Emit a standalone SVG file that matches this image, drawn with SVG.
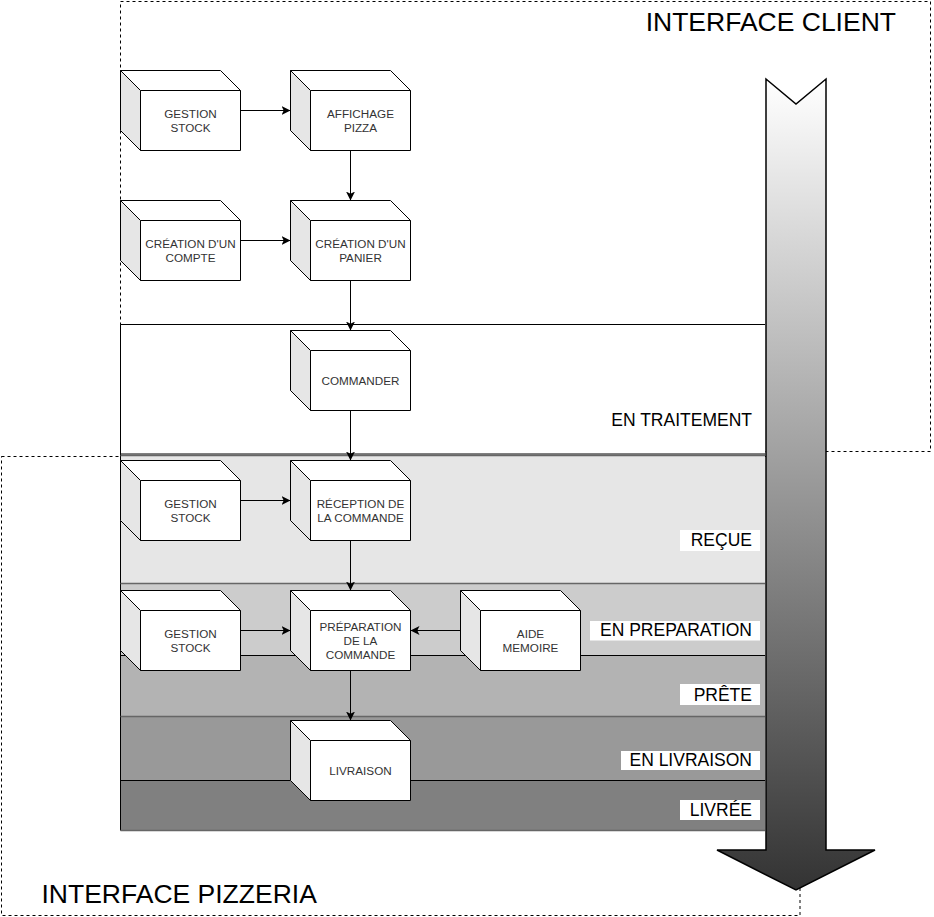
<svg xmlns="http://www.w3.org/2000/svg" width="934" height="917" viewBox="0 0 934 917">
<defs>
<style>
.cube-body{fill:#fff;stroke:#000;stroke-width:1}
.cube-side{fill:#e6e6e6;stroke:#000;stroke-width:1}
.cube-line{fill:none;stroke:#000;stroke-width:1}
.nt{font-family:"Liberation Sans",Arial,sans-serif;font-size:11.7px;fill:#333;text-anchor:middle}
.lbl{font-family:"Liberation Sans",Arial,sans-serif;font-size:17.5px;fill:#000;text-anchor:end}
.lblbg{fill:#fff}
.title{font-family:"Liberation Sans",Arial,sans-serif;font-size:26.5px;fill:#000}
.dash{fill:none;stroke:#000;stroke-width:1;stroke-dasharray:3 3}
.edge{fill:none;stroke:#000;stroke-width:1;marker-end:url(#arr)}
</style>
<marker id="arr" markerUnits="userSpaceOnUse" markerWidth="10" markerHeight="10" refX="9" refY="4.5" orient="auto">
<path d="M0,0 L9,4.5 L0,9 L2.2,4.5 Z" fill="#000"/>
</marker>
<linearGradient id="grad" x1="0" y1="79" x2="0" y2="890" gradientUnits="userSpaceOnUse">
<stop offset="0" stop-color="#ffffff"/>
<stop offset="1" stop-color="#333333"/>
</linearGradient>
</defs>

<g id="interface-client">
<rect class="dash" x="120.5" y="1.5" width="810" height="450"/>
<text class="title" x="896" y="30.5" text-anchor="end">INTERFACE CLIENT</text>
</g>
<g id="interface-pizzeria">
<rect class="dash" x="1.5" y="456.5" width="798.5" height="459"/>
<text class="title" x="41.5" y="903">INTERFACE PIZZERIA</text>
</g>

<g id="bands">
<rect x="120.5" y="324.5" width="644.5" height="130" fill="#ffffff"/>
<rect x="120.5" y="454.5" width="644.5" height="129" fill="#e6e6e6"/>
<rect x="120.5" y="583.5" width="644.5" height="72" fill="#cccccc"/>
<rect x="120.5" y="655.5" width="644.5" height="61" fill="#b3b3b3"/>
<rect x="120.5" y="716.5" width="644.5" height="64" fill="#999999"/>
<rect x="120.5" y="780.5" width="644.5" height="50" fill="#808080"/>
<path d="M120.5,324.5 H765 M120.5,454 H765 M120.5,655.5 H765 M120.5,780.5 H765 M120.5,324.5 V830.5" stroke="#000" stroke-width="1" fill="none"/>
<path d="M120.5,455.5 H765 M120.5,583.5 H765 M120.5,716.5 H765 M120.5,830.5 H765" stroke="#666" stroke-width="1.6" fill="none"/>
</g>

<g id="labels">
<text class="lbl" x="752" y="426">EN TRAITEMENT</text>
<rect class="lblbg" x="680" y="530" width="80" height="21"/>
<text class="lbl" x="752" y="546">REÇUE</text>
<rect class="lblbg" x="590" y="621" width="170" height="19.5"/>
<text class="lbl" x="752" y="636">EN PREPARATION</text>
<rect class="lblbg" x="680" y="684" width="80" height="21"/>
<text class="lbl" x="752" y="700.5">PRÊTE</text>
<rect class="lblbg" x="621" y="751" width="139" height="19"/>
<text class="lbl" x="752" y="766">EN LIVRAISON</text>
<rect class="lblbg" x="680" y="800" width="80" height="20"/>
<text class="lbl" x="752" y="816">LIVRÉE</text>
</g>

<g id="timeline-arrow">
<path d="M766,79 L796,104 L826,79 L826,850 L875,850 L796,890 L717,850 L766,850 Z" fill="url(#grad)" stroke="#000" stroke-width="1.5" stroke-linejoin="miter"/>
</g>

<g id="connectors">
<path class="edge" d="M240.5,110.5 H290.5"/>
<path class="edge" d="M350.5,150.5 V200.5"/>
<path class="edge" d="M240.5,240.5 H290.5"/>
<path class="edge" d="M350.5,280.5 V330.5"/>
<path class="edge" d="M350.5,410.5 V460.5"/>
<path class="edge" d="M240.5,500.5 H290.5"/>
<path class="edge" d="M350.5,540.5 V590.5"/>
<path class="edge" d="M240.5,630.5 H290.5"/>
<path class="edge" d="M460.5,630.5 H410.5"/>
<path class="edge" d="M350.5,670.5 V720.5"/>
</g>

<g id="gestion-stock-1">
<path class="cube-body" d="M120.5,70.5 H220.5 L240.5,90.5 V150.5 H140.5 L120.5,130.5 Z"/>
<path class="cube-side" d="M120.5,70.5 L140.5,90.5 V150.5 L120.5,130.5 Z"/>
<path class="cube-line" d="M140.5,90.5 H240.5"/>
<text class="nt" x="190.5" y="118">GESTION</text><text class="nt" x="190.5" y="132">STOCK</text>
</g>
<g id="affichage-pizza">
<path class="cube-body" d="M290.5,70.5 H390.5 L410.5,90.5 V150.5 H310.5 L290.5,130.5 Z"/>
<path class="cube-side" d="M290.5,70.5 L310.5,90.5 V150.5 L290.5,130.5 Z"/>
<path class="cube-line" d="M310.5,90.5 H410.5"/>
<text class="nt" x="360.5" y="118">AFFICHAGE</text><text class="nt" x="360.5" y="132">PIZZA</text>
</g>
<g id="creation-compte">
<path class="cube-body" d="M120.5,200.5 H220.5 L240.5,220.5 V280.5 H140.5 L120.5,260.5 Z"/>
<path class="cube-side" d="M120.5,200.5 L140.5,220.5 V280.5 L120.5,260.5 Z"/>
<path class="cube-line" d="M140.5,220.5 H240.5"/>
<text class="nt" x="190.5" y="248">CRÉATION D'UN</text><text class="nt" x="190.5" y="262">COMPTE</text>
</g>
<g id="creation-panier">
<path class="cube-body" d="M290.5,200.5 H390.5 L410.5,220.5 V280.5 H310.5 L290.5,260.5 Z"/>
<path class="cube-side" d="M290.5,200.5 L310.5,220.5 V280.5 L290.5,260.5 Z"/>
<path class="cube-line" d="M310.5,220.5 H410.5"/>
<text class="nt" x="360.5" y="248">CRÉATION D'UN</text><text class="nt" x="360.5" y="262">PANIER</text>
</g>
<g id="commander">
<path class="cube-body" d="M290.5,330.5 H390.5 L410.5,350.5 V410.5 H310.5 L290.5,390.5 Z"/>
<path class="cube-side" d="M290.5,330.5 L310.5,350.5 V410.5 L290.5,390.5 Z"/>
<path class="cube-line" d="M310.5,350.5 H410.5"/>
<text class="nt" x="360.5" y="385">COMMANDER</text>
</g>
<g id="gestion-stock-2">
<path class="cube-body" d="M120.5,460.5 H220.5 L240.5,480.5 V540.5 H140.5 L120.5,520.5 Z"/>
<path class="cube-side" d="M120.5,460.5 L140.5,480.5 V540.5 L120.5,520.5 Z"/>
<path class="cube-line" d="M140.5,480.5 H240.5"/>
<text class="nt" x="190.5" y="508">GESTION</text><text class="nt" x="190.5" y="522">STOCK</text>
</g>
<g id="reception-commande">
<path class="cube-body" d="M290.5,460.5 H390.5 L410.5,480.5 V540.5 H310.5 L290.5,520.5 Z"/>
<path class="cube-side" d="M290.5,460.5 L310.5,480.5 V540.5 L290.5,520.5 Z"/>
<path class="cube-line" d="M310.5,480.5 H410.5"/>
<text class="nt" x="360.5" y="508">RÉCEPTION DE</text><text class="nt" x="360.5" y="522">LA COMMANDE</text>
</g>
<g id="gestion-stock-3">
<path class="cube-body" d="M120.5,590.5 H220.5 L240.5,610.5 V670.5 H140.5 L120.5,650.5 Z"/>
<path class="cube-side" d="M120.5,590.5 L140.5,610.5 V670.5 L120.5,650.5 Z"/>
<path class="cube-line" d="M140.5,610.5 H240.5"/>
<text class="nt" x="190.5" y="638">GESTION</text><text class="nt" x="190.5" y="652">STOCK</text>
</g>
<g id="preparation-commande">
<path class="cube-body" d="M290.5,590.5 H390.5 L410.5,610.5 V670.5 H310.5 L290.5,650.5 Z"/>
<path class="cube-side" d="M290.5,590.5 L310.5,610.5 V670.5 L290.5,650.5 Z"/>
<path class="cube-line" d="M310.5,610.5 H410.5"/>
<text class="nt" x="360.5" y="630.5">PRÉPARATION</text><text class="nt" x="360.5" y="644.5">DE LA</text><text class="nt" x="360.5" y="658.5">COMMANDE</text>
</g>
<g id="aide-memoire">
<path class="cube-body" d="M460.5,590.5 H560.5 L580.5,610.5 V670.5 H480.5 L460.5,650.5 Z"/>
<path class="cube-side" d="M460.5,590.5 L480.5,610.5 V670.5 L460.5,650.5 Z"/>
<path class="cube-line" d="M480.5,610.5 H580.5"/>
<text class="nt" x="530.5" y="638">AIDE</text><text class="nt" x="530.5" y="652">MEMOIRE</text>
</g>
<g id="livraison">
<path class="cube-body" d="M290.5,720.5 H390.5 L410.5,740.5 V800.5 H310.5 L290.5,780.5 Z"/>
<path class="cube-side" d="M290.5,720.5 L310.5,740.5 V800.5 L290.5,780.5 Z"/>
<path class="cube-line" d="M310.5,740.5 H410.5"/>
<text class="nt" x="360.5" y="775">LIVRAISON</text>
</g>
</svg>
